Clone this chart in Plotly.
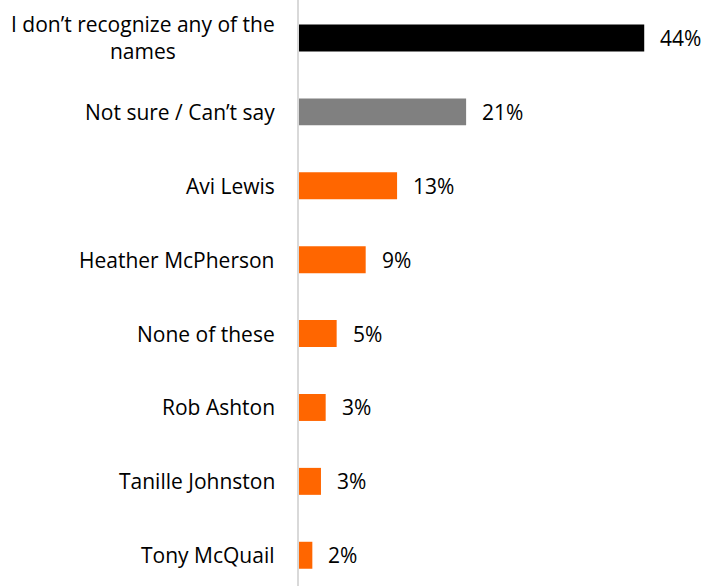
import plotly.graph_objects as go

categories = ["I don’t recognize any of the<br>names", "Not sure / Can’t say", "Avi Lewis",
              "Heather McPherson", "None of these", "Rob Ashton", "Tanille Johnston", "Tony McQuail"]
values = [44.0, 21.3, 12.5, 8.5, 4.8, 3.4, 2.8, 1.7]
value_labels = ["44%", "21%", "13%", "9%", "5%", "3%", "3%", "2%"]
colors = ["#000000", "#808080", "#FF6600", "#FF6600", "#FF6600", "#FF6600", "#FF6600", "#FF6600"]

FONT = "Open Sans"

fig = go.Figure()
fig.add_trace(go.Bar(
    x=values, y=list(range(len(categories))), orientation="h",
    marker=dict(color=colors, line=dict(width=0)),
    width=0.365, hoverinfo="skip"))

for i, (v, t) in enumerate(zip(values, value_labels)):
    fig.add_annotation(x=v, y=i, xref="x", yref="y", text=t, showarrow=False,
                       xanchor="left", xshift=14, font=dict(family=FONT, size=21, color="#000000"))

for i, c in enumerate(categories):
    fig.add_annotation(x=0, y=i, xref="paper", yref="y", text=c, showarrow=False,
                       xanchor="right", xshift=-22, align="center",
                       font=dict(family=FONT, size=21, color="#000000"))

fig.update_layout(
    width=707, height=586,
    margin=dict(l=299, r=0, t=0, b=0),
    plot_bgcolor="white", paper_bgcolor="white",
    showlegend=False,
    xaxis=dict(range=[0, 52.0], visible=False, fixedrange=True),
    yaxis=dict(range=[7.416, -0.514], showticklabels=False, showgrid=False, zeroline=False,
               showline=True, linecolor="#d9d9d9", linewidth=2, ticks=""),
)

fig.write_html("out.html")
